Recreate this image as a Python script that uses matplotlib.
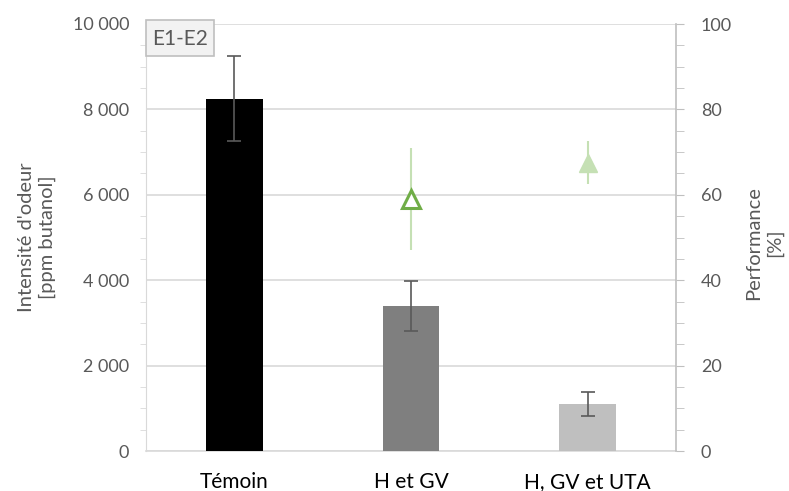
import matplotlib
matplotlib.use('Agg')
import matplotlib.pyplot as plt
from matplotlib.patches import Rectangle
from matplotlib.ticker import FuncFormatter, MultipleLocator

# Data
categories = ["Témoin", "H et GV", "H, GV et UTA"]
intensite = [8250, 3400, 1100]
intensite_err = [1000, 580, 280]
bar_colors = ["#000000", "#7f7f7f", "#bfbfbf"]

perf_idx = [1, 2]
performance = [59, 67.5]
performance_err = [12, 5]

plt.rcParams['font.family'] = ['Lato', 'DejaVu Sans']
txt = "#595959"
grid = "#d9d9d9"
W, H = 789, 491

fig = plt.figure(figsize=(W / 100, H / 100), dpi=100)
ax = fig.add_axes([146 / W, 40 / H, 530 / W, 427 / H])
ax2 = ax.twinx()

x = list(range(len(categories)))
ax.bar(x, intensite, width=0.32, color=bar_colors, zorder=3)
ax.errorbar(x, intensite, yerr=intensite_err, fmt='none', ecolor="#595959",
            elinewidth=1.2, capsize=5, capthick=1.2, zorder=4)

ax.set_xlim(-0.5, 2.5)
ax.set_ylim(0, 10000)
ax.yaxis.set_major_locator(MultipleLocator(2000))
ax.yaxis.set_minor_locator(MultipleLocator(500))
ax.yaxis.set_major_formatter(FuncFormatter(lambda v, p: f"{int(v):,}".replace(",", " ")))
ax.grid(axis='y', color=grid, linewidth=1.2, zorder=0)
ax.set_axisbelow(True)
ax.set_xticks(x)
ax.set_xticklabels(categories, fontsize=15, color="#000000")
ax.tick_params(axis='x', length=0, pad=15)
ax.tick_params(axis='y', which='both', colors=grid, labelcolor=txt, labelsize=13, direction='out')
ax.tick_params(axis='y', which='major', length=0, pad=12)
ax.tick_params(axis='y', which='minor', length=4)
for s in ['top', 'right']:
    ax.spines[s].set_visible(False)
ax.spines['left'].set_color(grid)
ax.spines['bottom'].set_color(grid)
ax.spines['bottom'].set_linewidth(1.2)
ax.set_ylabel("Intensité d'odeur\n[ppm butanol]", fontsize=14.5, color=txt, labelpad=12,
              linespacing=1.3)

# performance triangles
ax2.errorbar(perf_idx[0], performance[0], yerr=performance_err[0], fmt='none',
             ecolor="#c5e0b4", elinewidth=1.5, zorder=2)
ax2.errorbar(perf_idx[1], performance[1], yerr=performance_err[1], fmt='none',
             ecolor="#c5e0b4", elinewidth=1.5, zorder=2)
ax2.plot(perf_idx[0], performance[0], marker='^', markersize=13, markerfacecolor='white',
         markeredgecolor="#70ad47", markeredgewidth=2.2, linestyle='none', zorder=3)
ax2.plot(perf_idx[1], performance[1], marker='^', markersize=13, markerfacecolor="#c5e0b4",
         markeredgecolor="#c5e0b4", linestyle='none', zorder=3)
ax2.set_ylim(0, 100)
ax2.yaxis.set_major_locator(MultipleLocator(20))
ax2.yaxis.set_minor_locator(MultipleLocator(5))
ax2.tick_params(axis='y', which='both', colors="#bfbfbf", labelcolor=txt, labelsize=13, direction='out')
ax2.tick_params(axis='y', which='major', length=6, pad=12)
ax2.tick_params(axis='y', which='minor', length=6)
for s in ['top', 'left', 'bottom']:
    ax2.spines[s].set_visible(False)
ax2.spines['right'].set_color("#bfbfbf")
ax2.spines['right'].set_linewidth(1.2)
fig.text(764 / W, 1 - 243 / H, "Performance\n[%]", rotation=90, fontsize=14.5, color=txt,
         ha='center', va='center', multialignment='center', linespacing=1.3)

# label box
fig.patches.append(Rectangle((146 / W, 1 - 56 / H), 68 / W, 36 / H, transform=fig.transFigure,
                             facecolor="#f2f2f2", edgecolor="#bfbfbf", linewidth=1.2, zorder=5))
fig.text(180 / W, 1 - 39 / H, "E1-E2", fontsize=15, color=txt, ha='center', va='center', zorder=6)

fig.savefig("out.png", dpi=100)
